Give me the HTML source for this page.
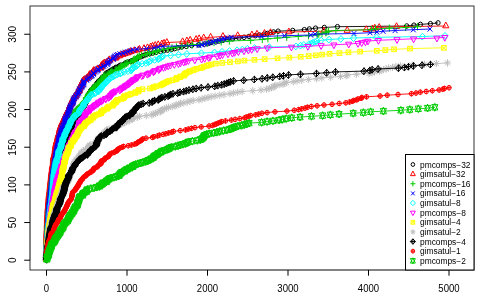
<!DOCTYPE html>
<html><head><meta charset="utf-8"><title>plot</title>
<style>
html,body{margin:0;padding:0;background:#fff;}
text{filter:grayscale(1);}
svg{display:block;font-family:"Liberation Sans",sans-serif;font-size:9.6px;fill:#000;}
</style></head><body>
<svg width="480" height="300" viewBox="0 0 480 300">
<rect width="480" height="300" fill="#fff"/>
<g>
<defs>
<marker id="m1" viewBox="-5 -5 10 10" markerWidth="10" markerHeight="10" refX="0" refY="0" markerUnits="userSpaceOnUse" overflow="visible"><path d="M-2.15 0A2.15 2.3 0 1 0 2.15 0A2.15 2.3 0 1 0 -2.15 0Z" fill="none" stroke="#000000" stroke-width="1.0" stroke-linejoin="round" stroke-linecap="round"/></marker>
<marker id="m2" viewBox="-5 -5 10 10" markerWidth="10" markerHeight="10" refX="0" refY="0" markerUnits="userSpaceOnUse" overflow="visible"><path d="M0 -3.58 L2.9 1.79 L-2.9 1.79Z" fill="none" stroke="#FF0000" stroke-width="1.0" stroke-linejoin="round" stroke-linecap="round"/></marker>
<marker id="m3" viewBox="-5 -5 10 10" markerWidth="10" markerHeight="10" refX="0" refY="0" markerUnits="userSpaceOnUse" overflow="visible"><path d="M-3.04 0 L3.04 0M0 -3.25 L0 3.25" fill="none" stroke="#00CD00" stroke-width="1.0" stroke-linejoin="round" stroke-linecap="round"/></marker>
<marker id="m4" viewBox="-5 -5 10 10" markerWidth="10" markerHeight="10" refX="0" refY="0" markerUnits="userSpaceOnUse" overflow="visible"><path d="M-2.15 -2.3 L2.15 2.3M-2.15 2.3 L2.15 -2.3" fill="none" stroke="#0000FF" stroke-width="1.0" stroke-linejoin="round" stroke-linecap="round"/></marker>
<marker id="m5" viewBox="-5 -5 10 10" markerWidth="10" markerHeight="10" refX="0" refY="0" markerUnits="userSpaceOnUse" overflow="visible"><path d="M-3.04 0 L0 -3.25 L3.04 0 L0 3.25Z" fill="none" stroke="#00FFFF" stroke-width="1.0" stroke-linejoin="round" stroke-linecap="round"/></marker>
<marker id="m6" viewBox="-5 -5 10 10" markerWidth="10" markerHeight="10" refX="0" refY="0" markerUnits="userSpaceOnUse" overflow="visible"><path d="M0 3.58 L2.9 -1.79 L-2.9 -1.79Z" fill="none" stroke="#FF00FF" stroke-width="1.0" stroke-linejoin="round" stroke-linecap="round"/></marker>
<marker id="m7" viewBox="-5 -5 10 10" markerWidth="10" markerHeight="10" refX="0" refY="0" markerUnits="userSpaceOnUse" overflow="visible"><path d="M-2.15 -2.3 L2.15 -2.3 L2.15 2.3 L-2.15 2.3ZM-2.15 -2.3 L2.15 2.3M-2.15 2.3 L2.15 -2.3" fill="none" stroke="#FFFF00" stroke-width="1.0" stroke-linejoin="round" stroke-linecap="round"/></marker>
<marker id="m8" viewBox="-5 -5 10 10" markerWidth="10" markerHeight="10" refX="0" refY="0" markerUnits="userSpaceOnUse" overflow="visible"><path d="M-2.15 -2.3 L2.15 2.3M-2.15 2.3 L2.15 -2.3M-3.04 0 L3.04 0M0 -3.25 L0 3.25" fill="none" stroke="#BEBEBE" stroke-width="1.0" stroke-linejoin="round" stroke-linecap="round"/></marker>
<marker id="m9" viewBox="-5 -5 10 10" markerWidth="10" markerHeight="10" refX="0" refY="0" markerUnits="userSpaceOnUse" overflow="visible"><path d="M-3.04 0 L0 -3.25 L3.04 0 L0 3.25ZM-3.04 0 L3.04 0M0 -3.25 L0 3.25" fill="none" stroke="#000000" stroke-width="1.0" stroke-linejoin="round" stroke-linecap="round"/></marker>
<marker id="m10" viewBox="-5 -5 10 10" markerWidth="10" markerHeight="10" refX="0" refY="0" markerUnits="userSpaceOnUse" overflow="visible"><path d="M-2.15 0A2.15 2.3 0 1 0 2.15 0A2.15 2.3 0 1 0 -2.15 0ZM-2.15 0 L2.15 0M0 -2.3 L0 2.3" fill="none" stroke="#FF0000" stroke-width="1.0" stroke-linejoin="round" stroke-linecap="round"/></marker>
<marker id="m11" viewBox="-5 -5 10 10" markerWidth="10" markerHeight="10" refX="0" refY="0" markerUnits="userSpaceOnUse" overflow="visible"><path d="M0 3.58 L2.9 -2.68 L-2.9 -2.68ZM0 -3.58 L2.9 2.68 L-2.9 2.68Z" fill="none" stroke="#00CD00" stroke-width="1.0" stroke-linejoin="round" stroke-linecap="round"/></marker>
</defs>
<polyline points="46.5,259.4 46.6,258.7 46.6,257.9 46.6,257.2 46.6,256.4 46.6,255.7 46.7,254.9 46.7,254.2 46.7,253.4 46.7,252.7 46.8,251.9 46.8,251.2 46.9,250.4 46.9,249.7 46.9,248.9 46.9,248.1 47.0,247.4 47.1,246.6 47.1,245.9 47.1,245.1 47.1,244.4 47.2,243.6 47.2,242.9 47.2,242.1 47.3,241.4 47.3,240.6 47.3,239.9 47.3,239.1 47.3,238.4 47.4,237.6 47.4,236.9 47.4,236.1 47.5,235.3 47.6,234.6 47.7,233.8 47.7,233.1 47.7,232.3 47.8,231.6 47.9,230.8 48.0,230.1 48.0,229.3 48.0,228.6 48.0,227.8 48.0,227.1 48.0,226.3 48.1,225.6 48.1,224.8 48.2,224.0 48.2,223.3 48.3,222.5 48.4,221.8 48.5,221.0 48.5,220.3 48.6,219.5 48.6,218.8 48.7,218.0 48.7,217.3 48.8,216.5 48.8,215.8 48.8,215.0 48.8,214.3 48.9,213.5 49.0,212.7 49.0,212.0 49.0,211.2 49.2,210.5 49.3,209.7 49.5,209.0 49.5,208.2 49.5,207.5 49.5,206.7 49.5,206.0 49.5,205.2 49.6,204.5 49.7,203.7 49.7,203.0 50.0,202.2 50.0,201.5 50.1,200.7 50.1,199.9 50.2,199.2 50.2,198.4 50.3,197.7 50.4,196.9 50.5,196.2 50.5,195.4 50.6,194.7 50.8,193.9 50.8,193.2 50.8,192.4 50.9,191.7 51.1,190.9 51.4,190.2 51.4,189.4 51.5,188.6 51.7,187.9 51.9,187.1 51.9,186.4 52.0,185.6 52.2,184.9 52.2,184.1 52.2,183.4 52.2,182.6 52.2,181.9 52.3,181.1 52.4,180.4 52.5,179.6 52.6,178.9 52.9,178.1 52.9,177.3 53.1,176.6 53.2,175.8 53.2,175.1 53.3,174.3 53.3,173.6 53.5,172.8 53.7,172.1 53.7,171.3 53.9,170.6 53.9,169.8 54.0,169.1 54.2,168.3 54.3,167.6 54.4,166.8 54.7,166.1 55.0,165.3 55.5,164.5 55.8,163.8 55.8,163.0 55.9,162.3 56.2,161.5 57.1,160.8 57.1,160.0 57.1,159.3 58.0,158.5 58.2,157.8 58.2,157.0 58.4,156.3 58.6,155.5 58.9,154.8 59.2,154.0 59.8,153.2 60.1,152.5 60.1,151.7 60.3,151.0 60.6,150.2 61.6,149.5 61.6,148.7 62.0,148.0 62.1,147.2 62.3,146.5 62.6,145.7 62.8,145.0 63.2,144.2 63.3,143.5 63.6,142.7 64.4,141.9 64.6,141.2 65.5,140.4 66.3,139.7 66.9,138.9 66.9,138.2 67.2,137.4 67.7,136.7 68.1,135.9 68.1,135.2 68.4,134.4 69.2,133.7 69.8,132.9 70.7,132.2 71.3,131.4 71.3,130.6 71.3,129.9 71.3,129.1 72.0,128.4 72.2,127.6 72.2,126.9 72.2,126.1 72.7,125.4 72.7,124.6 72.8,123.9 73.2,123.1 73.4,122.4 73.8,121.6 74.8,120.9 74.8,120.1 75.1,119.4 75.3,118.6 75.5,117.8 75.9,117.1 77.0,116.3 77.9,115.6 78.9,114.8 79.6,114.1 79.6,113.3 79.6,112.6 79.9,111.8 80.0,111.1 80.4,110.3 80.8,109.6 81.3,108.8 82.3,108.1 83.1,107.3 84.2,106.5 84.7,105.8 84.7,105.0 84.7,104.3 85.5,103.5 85.7,102.8 86.4,102.0 86.4,101.3 86.4,100.5 86.4,99.8 87.1,99.0 87.2,98.3 88.0,97.5 88.0,96.8 88.4,96.0 88.4,95.2 88.6,94.5 89.0,93.7 89.4,93.0 90.0,92.2 90.4,91.5 90.8,90.7 91.2,90.0 92.7,89.2 93.9,88.5 93.9,87.7 93.9,87.0 94.5,86.2 95.9,85.5 96.5,84.7 96.9,84.0 96.9,83.2 97.8,82.4 98.3,81.7 98.9,80.9 100.3,80.2 102.0,79.4 102.1,78.7 102.1,77.9 102.4,77.2 104.2,76.4 105.3,75.7 105.6,74.9 105.6,74.2 106.1,73.4 107.0,72.7 108.9,71.9 109.6,71.1 111.6,70.4 112.0,69.6 113.2,68.9 115.5,68.1 115.8,67.4 118.1,66.6 119.3,65.9 120.6,65.1 123.5,64.4 125.1,63.6 125.7,62.9 127.5,62.1 130.4,61.4 132.2,60.6 134.4,59.8 136.7,59.1 137.1,58.3 138.1,57.6 140.7,56.8 142.3,56.1 144.1,55.3 146.1,54.6 149.6,53.8 152.6,53.1 156.0,52.3 160.5,51.6 163.8,50.8 167.4,50.1 171.7,49.3 174.7,48.6 177.9,47.8 181.6,47.0 186.2,46.3 191.6,45.5 198.5,44.8 204.4,44.0 208.6,43.3 211.0,42.5 215.9,41.8 219.2,41.0 222.9,40.3 227.1,39.5 232.7,38.8 239.0,38.0 244.0,37.3 249.0,36.5 255.2,35.7 259.3,35.0 263.9,34.2 267.3,33.5 270.2,32.7 273.5,32.0 278.1,31.2 292.7,30.5 304.3,29.7 309.3,29.0 315.5,28.2 324.3,27.5 337.4,26.7 406.7,26.0 413.9,25.2 420.4,24.4 430.4,23.7 438.0,22.9" fill="none" stroke="#000000" stroke-width="0.9" marker-start="url(#m1)" marker-mid="url(#m1)" marker-end="url(#m1)"/>
<polyline points="46.5,259.4 46.5,258.7 46.5,257.9 46.5,257.2 46.6,256.4 46.6,255.7 46.6,254.9 46.6,254.2 46.6,253.4 46.7,252.7 46.7,251.9 46.7,251.2 46.7,250.4 46.7,249.7 46.7,248.9 46.7,248.1 46.7,247.4 46.8,246.6 46.8,245.9 46.8,245.1 46.8,244.4 46.8,243.6 46.8,242.9 46.8,242.1 46.9,241.4 46.9,240.6 46.9,239.9 46.9,239.1 46.9,238.4 46.9,237.6 47.0,236.9 47.0,236.1 47.0,235.3 47.0,234.6 47.0,233.8 47.1,233.1 47.1,232.3 47.2,231.6 47.2,230.8 47.2,230.1 47.3,229.3 47.4,228.6 47.4,227.8 47.4,227.1 47.4,226.3 47.4,225.6 47.5,224.8 47.5,224.0 47.5,223.3 47.6,222.5 47.6,221.8 47.6,221.0 47.6,220.3 47.7,219.5 47.7,218.8 47.7,218.0 47.8,217.3 47.9,216.5 47.9,215.8 47.9,215.0 48.0,214.3 48.1,213.5 48.1,212.7 48.1,212.0 48.1,211.2 48.1,210.5 48.2,209.7 48.2,209.0 48.3,208.2 48.5,207.5 48.5,206.7 48.6,206.0 48.6,205.2 48.6,204.5 48.7,203.7 48.7,203.0 48.8,202.2 48.9,201.5 49.0,200.7 49.0,199.9 49.1,199.2 49.1,198.4 49.2,197.7 49.2,196.9 49.3,196.2 49.3,195.4 49.5,194.7 49.7,193.9 49.7,193.2 49.7,192.4 49.9,191.7 50.0,190.9 50.2,190.2 50.2,189.4 50.2,188.6 50.3,187.9 50.4,187.1 50.5,186.4 50.6,185.6 50.6,184.9 50.6,184.1 50.9,183.4 50.9,182.6 50.9,181.9 51.0,181.1 51.2,180.4 51.2,179.6 51.3,178.9 51.4,178.1 51.4,177.3 51.6,176.6 51.6,175.8 51.6,175.1 51.7,174.3 51.8,173.6 51.9,172.8 52.1,172.1 52.1,171.3 52.4,170.6 52.4,169.8 52.4,169.1 52.5,168.3 52.6,167.6 52.6,166.8 52.9,166.1 53.0,165.3 53.3,164.5 53.4,163.8 53.4,163.0 53.4,162.3 53.7,161.5 53.7,160.8 53.7,160.0 53.7,159.3 53.7,158.5 53.8,157.8 53.8,157.0 54.3,156.3 54.4,155.5 54.5,154.8 54.8,154.0 55.2,153.2 55.2,152.5 55.2,151.7 55.3,151.0 55.3,150.2 55.7,149.5 55.7,148.7 55.7,148.0 55.8,147.2 55.9,146.5 56.0,145.7 56.1,145.0 56.3,144.2 56.6,143.5 56.7,142.7 56.8,141.9 57.0,141.2 57.5,140.4 57.9,139.7 57.9,138.9 57.9,138.2 58.2,137.4 58.3,136.7 58.3,135.9 58.5,135.2 58.9,134.4 59.5,133.7 59.5,132.9 59.5,132.2 59.8,131.4 59.9,130.6 60.0,129.9 60.1,129.1 60.6,128.4 60.7,127.6 60.9,126.9 61.3,126.1 61.5,125.4 61.7,124.6 62.0,123.9 62.4,123.1 62.7,122.4 63.4,121.6 63.7,120.9 63.8,120.1 64.4,119.4 64.6,118.6 64.8,117.8 65.1,117.1 65.6,116.3 65.9,115.6 66.5,114.8 66.6,114.1 67.0,113.3 67.2,112.6 67.7,111.8 68.7,111.1 68.9,110.3 68.9,109.6 69.3,108.8 69.6,108.1 69.7,107.3 69.9,106.5 70.2,105.8 70.8,105.0 71.0,104.3 71.3,103.5 71.6,102.8 72.2,102.0 72.3,101.3 72.5,100.5 73.0,99.8 73.4,99.0 73.9,98.3 74.4,97.5 75.7,96.8 75.8,96.0 76.2,95.2 76.5,94.5 76.9,93.7 77.3,93.0 78.0,92.2 79.1,91.5 79.4,90.7 79.4,90.0 79.5,89.2 79.6,88.5 79.8,87.7 81.1,87.0 81.2,86.2 81.3,85.5 81.6,84.7 81.8,84.0 82.1,83.2 82.5,82.4 82.9,81.7 83.4,80.9 83.9,80.2 85.0,79.4 86.8,78.7 87.2,77.9 89.2,77.2 89.2,76.4 89.3,75.7 89.6,74.9 90.3,74.2 92.1,73.4 93.1,72.7 93.3,71.9 93.5,71.1 94.1,70.4 97.2,69.6 98.2,68.9 101.2,68.1 101.2,67.4 101.3,66.6 101.6,65.9 102.2,65.1 103.0,64.4 104.0,63.6 104.8,62.9 107.2,62.1 108.6,61.4 109.0,60.6 109.6,59.8 113.0,59.1 115.8,58.3 116.2,57.6 116.8,56.8 119.4,56.1 120.5,55.3 123.1,54.6 125.2,53.8 127.7,53.1 129.5,52.3 131.2,51.6 134.4,50.8 138.6,50.1 139.6,49.3 144.2,48.6 147.7,47.8 150.9,47.0 152.8,46.3 155.4,45.5 158.4,44.8 162.1,44.0 164.2,43.3 167.0,42.5 182.8,41.8 187.1,41.0 190.4,40.3 196.3,39.5 199.3,38.8 203.9,38.0 210.8,37.3 223.1,36.5 237.9,35.7 252.1,35.0 257.2,34.2 264.7,33.5 270.7,32.7 289.0,32.0 324.0,31.2 347.4,30.5 366.4,29.7 372.5,29.0 375.0,28.2 379.4,27.5 396.7,26.7 446.0,26.0" fill="none" stroke="#FF0000" stroke-width="0.9" marker-start="url(#m2)" marker-mid="url(#m2)" marker-end="url(#m2)"/>
<polyline points="46.5,259.4 46.6,258.7 46.6,257.9 46.7,257.2 46.7,256.4 46.7,255.7 46.7,254.9 46.7,254.2 46.8,253.4 46.8,252.7 46.8,251.9 46.8,251.2 46.8,250.4 46.9,249.7 46.9,248.9 46.9,248.1 47.0,247.4 47.1,246.6 47.1,245.9 47.1,245.1 47.1,244.4 47.1,243.6 47.2,242.9 47.2,242.1 47.2,241.4 47.2,240.6 47.3,239.9 47.3,239.1 47.3,238.4 47.4,237.6 47.4,236.9 47.4,236.1 47.4,235.3 47.5,234.6 47.5,233.8 47.6,233.1 47.7,232.3 47.7,231.6 47.7,230.8 47.7,230.1 47.8,229.3 47.8,228.6 47.9,227.8 48.1,227.1 48.1,226.3 48.2,225.6 48.2,224.8 48.3,224.0 48.3,223.3 48.3,222.5 48.4,221.8 48.5,221.0 48.5,220.3 48.6,219.5 48.6,218.8 48.6,218.0 48.6,217.3 48.7,216.5 48.7,215.8 48.8,215.0 48.8,214.3 48.9,213.5 48.9,212.7 48.9,212.0 49.0,211.2 49.0,210.5 49.2,209.7 49.4,209.0 49.5,208.2 49.5,207.5 49.6,206.7 49.7,206.0 49.7,205.2 49.9,204.5 50.0,203.7 50.0,203.0 50.1,202.2 50.2,201.5 50.2,200.7 50.4,199.9 50.4,199.2 50.5,198.4 50.5,197.7 50.5,196.9 50.7,196.2 50.8,195.4 50.9,194.7 50.9,193.9 51.0,193.2 51.0,192.4 51.1,191.7 51.2,190.9 51.4,190.2 51.6,189.4 51.6,188.6 51.6,187.9 51.6,187.1 51.7,186.4 51.8,185.6 51.9,184.9 52.0,184.1 52.0,183.4 52.1,182.6 52.1,181.9 52.3,181.1 52.4,180.4 52.6,179.6 52.7,178.9 52.8,178.1 52.8,177.3 52.9,176.6 53.2,175.8 53.2,175.1 53.3,174.3 53.4,173.6 53.4,172.8 53.6,172.1 53.7,171.3 54.0,170.6 54.1,169.8 54.2,169.1 54.2,168.3 54.2,167.6 54.5,166.8 54.7,166.1 55.0,165.3 55.1,164.5 55.5,163.8 55.5,163.0 55.6,162.3 55.8,161.5 55.9,160.8 55.9,160.0 56.1,159.3 56.5,158.5 56.8,157.8 56.8,157.0 56.8,156.3 56.8,155.5 56.9,154.8 57.0,154.0 57.3,153.2 57.4,152.5 57.6,151.7 57.7,151.0 57.8,150.2 58.1,149.5 58.2,148.7 58.3,148.0 58.5,147.2 59.0,146.5 59.5,145.7 59.7,145.0 59.8,144.2 60.2,143.5 60.2,142.7 60.2,141.9 60.2,141.2 60.4,140.4 60.6,139.7 60.7,138.9 60.8,138.2 61.0,137.4 61.1,136.7 61.3,135.9 61.5,135.2 61.8,134.4 62.5,133.7 62.6,132.9 62.8,132.2 62.9,131.4 63.2,130.6 63.3,129.9 63.6,129.1 64.2,128.4 64.4,127.6 65.2,126.9 65.3,126.1 65.5,125.4 65.8,124.6 66.5,123.9 67.6,123.1 67.7,122.4 67.9,121.6 68.0,120.9 68.2,120.1 68.8,119.4 69.9,118.6 70.3,117.8 72.1,117.1 72.9,116.3 74.4,115.6 74.4,114.8 74.9,114.1 74.9,113.3 74.9,112.6 75.1,111.8 75.4,111.1 76.0,110.3 76.5,109.6 77.8,108.8 79.6,108.1 79.8,107.3 80.2,106.5 80.6,105.8 81.3,105.0 82.1,104.3 83.6,103.5 83.6,102.8 84.9,102.0 84.9,101.3 85.6,100.5 86.3,99.8 86.3,99.0 86.3,98.3 86.5,97.5 87.6,96.8 87.9,96.0 88.3,95.2 88.6,94.5 88.9,93.7 90.3,93.0 90.4,92.2 91.0,91.5 91.4,90.7 91.7,90.0 93.0,89.2 93.1,88.5 93.3,87.7 95.1,87.0 95.5,86.2 97.3,85.5 97.6,84.7 97.6,84.0 97.7,83.2 99.7,82.4 99.8,81.7 101.6,80.9 101.6,80.2 101.6,79.4 103.5,78.7 103.7,77.9 103.7,77.2 103.8,76.4 104.1,75.7 106.0,74.9 107.9,74.2 109.9,73.4 110.5,72.7 111.3,71.9 112.0,71.1 115.2,70.4 116.7,69.6 118.3,68.9 119.1,68.1 120.6,67.4 121.4,66.6 122.3,65.9 124.1,65.1 125.0,64.4 126.3,63.6 127.9,62.9 131.0,62.1 133.2,61.4 133.2,60.6 133.4,59.8 134.8,59.1 137.1,58.3 137.4,57.6 138.0,56.8 139.4,56.1 141.7,55.3 145.1,54.6 147.6,53.8 149.7,53.1 153.0,52.3 155.5,51.6 157.3,50.8 159.2,50.1 163.7,49.3 168.2,48.6 172.0,47.8 176.4,47.0 181.8,46.3 187.7,45.5 192.3,44.8 200.0,44.0 207.1,43.3 214.0,42.5 221.2,41.8 229.3,41.0 250.7,40.3 262.3,39.5 267.9,38.8 277.5,38.0 286.7,37.3 298.3,36.5 308.5,35.7 317.2,35.0 318.8,34.2 322.0,33.5 325.8,32.7 326.8,32.0 328.6,31.2 335.9,30.5 371.6,29.7 375.5,29.0 389.3,28.2 405.7,27.5 417.5,26.7" fill="none" stroke="#00CD00" stroke-width="0.9" marker-start="url(#m3)" marker-mid="url(#m3)" marker-end="url(#m3)"/>
<polyline points="46.5,259.4 46.6,258.7 46.7,257.9 46.7,257.2 46.7,256.4 46.7,255.7 46.8,254.9 46.8,254.2 46.8,253.4 46.8,252.7 46.8,251.9 46.9,251.2 46.9,250.4 46.9,249.7 46.9,248.9 47.0,248.1 47.0,247.4 47.0,246.6 47.0,245.9 47.1,245.1 47.1,244.4 47.1,243.6 47.2,242.9 47.2,242.1 47.3,241.4 47.3,240.6 47.3,239.9 47.4,239.1 47.4,238.4 47.5,237.6 47.5,236.9 47.5,236.1 47.5,235.3 47.5,234.6 47.6,233.8 47.6,233.1 47.6,232.3 47.6,231.6 47.6,230.8 47.6,230.1 47.7,229.3 47.7,228.6 47.8,227.8 47.8,227.1 47.9,226.3 47.9,225.6 47.9,224.8 47.9,224.0 48.0,223.3 48.0,222.5 48.0,221.8 48.1,221.0 48.1,220.3 48.2,219.5 48.2,218.8 48.2,218.0 48.3,217.3 48.3,216.5 48.3,215.8 48.4,215.0 48.4,214.3 48.4,213.5 48.4,212.7 48.4,212.0 48.7,211.2 48.7,210.5 48.7,209.7 48.8,209.0 48.8,208.2 48.9,207.5 48.9,206.7 49.1,206.0 49.1,205.2 49.2,204.5 49.3,203.7 49.4,203.0 49.4,202.2 49.5,201.5 49.5,200.7 49.8,199.9 50.0,199.2 50.0,198.4 50.0,197.7 50.2,196.9 50.2,196.2 50.2,195.4 50.2,194.7 50.2,193.9 50.5,193.2 50.5,192.4 50.7,191.7 50.9,190.9 51.0,190.2 51.0,189.4 51.0,188.6 51.2,187.9 51.4,187.1 51.4,186.4 51.4,185.6 51.4,184.9 51.4,184.1 51.6,183.4 51.7,182.6 51.9,181.9 51.9,181.1 52.1,180.4 52.2,179.6 52.2,178.9 52.2,178.1 52.4,177.3 52.4,176.6 52.4,175.8 52.4,175.1 52.5,174.3 52.6,173.6 52.7,172.8 52.8,172.1 53.2,171.3 53.2,170.6 53.3,169.8 53.4,169.1 53.5,168.3 53.6,167.6 53.9,166.8 54.0,166.1 54.0,165.3 54.2,164.5 54.2,163.8 54.3,163.0 54.7,162.3 54.7,161.5 54.8,160.8 54.9,160.0 55.3,159.3 55.3,158.5 55.4,157.8 55.6,157.0 55.6,156.3 55.6,155.5 55.9,154.8 55.9,154.0 56.3,153.2 56.3,152.5 56.3,151.7 56.5,151.0 56.5,150.2 56.8,149.5 56.9,148.7 57.0,148.0 57.3,147.2 57.4,146.5 57.7,145.7 57.9,145.0 58.1,144.2 58.1,143.5 58.4,142.7 58.4,141.9 58.4,141.2 58.7,140.4 58.7,139.7 58.9,138.9 59.0,138.2 59.1,137.4 59.4,136.7 59.5,135.9 59.7,135.2 60.3,134.4 60.6,133.7 60.6,132.9 60.8,132.2 61.0,131.4 61.2,130.6 61.3,129.9 62.1,129.1 62.1,128.4 62.1,127.6 62.3,126.9 62.7,126.1 63.4,125.4 64.0,124.6 64.3,123.9 64.8,123.1 64.8,122.4 64.8,121.6 64.8,120.9 65.1,120.1 65.3,119.4 65.6,118.6 66.0,117.8 66.1,117.1 66.8,116.3 67.6,115.6 67.7,114.8 67.7,114.1 68.1,113.3 68.2,112.6 69.0,111.8 69.0,111.1 69.4,110.3 69.4,109.6 69.8,108.8 69.8,108.1 70.4,107.3 70.4,106.5 71.0,105.8 71.5,105.0 71.8,104.3 72.6,103.5 73.3,102.8 73.3,102.0 73.4,101.3 73.4,100.5 73.5,99.8 73.6,99.0 74.5,98.3 74.7,97.5 75.8,96.8 75.9,96.0 77.0,95.2 77.0,94.5 78.0,93.7 78.5,93.0 78.5,92.2 78.5,91.5 79.6,90.7 79.6,90.0 79.6,89.2 80.1,88.5 81.2,87.7 81.7,87.0 82.0,86.2 82.9,85.5 83.6,84.7 83.6,84.0 83.7,83.2 83.7,82.4 83.7,81.7 84.2,80.9 86.7,80.2 86.7,79.4 88.2,78.7 88.2,77.9 89.5,77.2 91.0,76.4 92.0,75.7 92.0,74.9 93.5,74.2 93.5,73.4 93.5,72.7 95.4,71.9 96.6,71.1 97.8,70.4 97.9,69.6 98.0,68.9 100.7,68.1 100.7,67.4 103.3,66.6 103.7,65.9 105.1,65.1 107.2,64.4 107.4,63.6 108.2,62.9 108.2,62.1 109.0,61.4 110.3,60.6 110.4,59.8 113.3,59.1 113.6,58.3 113.8,57.6 114.4,56.8 115.1,56.1 116.2,55.3 117.6,54.6 119.9,53.8 123.2,53.1 125.4,52.3 127.9,51.6 130.2,50.8 133.2,50.1 137.1,49.3 146.6,48.6 154.1,47.8 158.2,47.0 163.1,46.3 199.0,45.5 201.9,44.8 204.7,44.0 207.7,43.3 210.4,42.5 213.0,41.8 215.5,41.0 219.0,40.3 221.7,39.5 223.9,38.8 227.5,38.0 231.3,37.3 261.9,36.5 284.4,35.7 310.7,35.0 315.0,34.2 354.0,33.5 370.0,32.7 376.9,32.0 383.1,31.2 395.1,30.5 413.3,29.7 430.0,29.0" fill="none" stroke="#0000FF" stroke-width="0.9" marker-start="url(#m4)" marker-mid="url(#m4)" marker-end="url(#m4)"/>
<polyline points="46.6,259.4 46.6,258.7 46.6,257.9 46.6,257.2 46.7,256.4 46.7,255.7 46.7,254.9 46.8,254.2 46.9,253.4 46.9,252.7 47.0,251.9 47.0,251.2 47.0,250.4 47.0,249.7 47.1,248.9 47.1,248.1 47.2,247.4 47.2,246.6 47.3,245.9 47.3,245.1 47.4,244.4 47.4,243.6 47.5,242.9 47.6,242.1 47.6,241.4 47.6,240.6 47.8,239.9 47.9,239.1 48.0,238.4 48.1,237.6 48.2,236.9 48.2,236.1 48.2,235.3 48.2,234.6 48.3,233.8 48.4,233.1 48.4,232.3 48.5,231.6 48.5,230.8 48.6,230.1 48.7,229.3 48.7,228.6 48.8,227.8 48.9,227.1 48.9,226.3 49.1,225.6 49.1,224.8 49.1,224.0 49.1,223.3 49.4,222.5 49.4,221.8 49.5,221.0 49.7,220.3 49.8,219.5 49.9,218.8 50.0,218.0 50.0,217.3 50.0,216.5 50.0,215.8 50.2,215.0 50.2,214.3 50.2,213.5 50.3,212.7 50.5,212.0 50.6,211.2 50.6,210.5 50.7,209.7 51.0,209.0 51.0,208.2 51.1,207.5 51.1,206.7 51.2,206.0 51.3,205.2 51.4,204.5 51.7,203.7 51.7,203.0 51.8,202.2 52.0,201.5 52.0,200.7 52.0,199.9 52.1,199.2 52.2,198.4 52.2,197.7 52.3,196.9 52.5,196.2 52.6,195.4 52.7,194.7 52.8,193.9 52.8,193.2 52.9,192.4 52.9,191.7 52.9,190.9 53.0,190.2 53.2,189.4 53.2,188.6 53.2,187.9 53.3,187.1 53.3,186.4 53.3,185.6 53.5,184.9 53.5,184.1 53.6,183.4 53.6,182.6 53.6,181.9 53.6,181.1 53.7,180.4 53.8,179.6 53.8,178.9 53.9,178.1 53.9,177.3 54.0,176.6 54.1,175.8 54.1,175.1 54.2,174.3 54.5,173.6 54.6,172.8 54.7,172.1 54.7,171.3 54.9,170.6 54.9,169.8 55.2,169.1 55.2,168.3 55.3,167.6 55.4,166.8 55.5,166.1 55.6,165.3 55.9,164.5 55.9,163.8 56.1,163.0 56.2,162.3 56.3,161.5 56.8,160.8 56.8,160.0 57.1,159.3 57.2,158.5 57.8,157.8 58.3,157.0 58.3,156.3 58.4,155.5 58.4,154.8 58.7,154.0 58.7,153.2 58.8,152.5 58.9,151.7 59.1,151.0 59.3,150.2 60.0,149.5 60.2,148.7 60.8,148.0 61.0,147.2 61.1,146.5 61.4,145.7 61.4,145.0 61.4,144.2 61.5,143.5 62.0,142.7 62.4,141.9 62.8,141.2 62.8,140.4 62.9,139.7 63.0,138.9 63.2,138.2 63.4,137.4 64.3,136.7 64.6,135.9 64.8,135.2 64.9,134.4 65.1,133.7 65.3,132.9 66.3,132.2 66.4,131.4 66.7,130.6 66.8,129.9 67.2,129.1 67.9,128.4 68.6,127.6 68.7,126.9 68.7,126.1 69.1,125.4 69.5,124.6 70.3,123.9 70.3,123.1 70.5,122.4 70.8,121.6 71.0,120.9 71.2,120.1 72.9,119.4 72.9,118.6 73.3,117.8 74.1,117.1 74.3,116.3 74.8,115.6 76.6,114.8 77.1,114.1 78.6,113.3 79.7,112.6 79.7,111.8 79.7,111.1 79.7,110.3 80.3,109.6 80.4,108.8 81.9,108.1 82.6,107.3 82.8,106.5 83.7,105.8 83.7,105.0 83.8,104.3 84.1,103.5 84.5,102.8 85.8,102.0 86.5,101.3 86.7,100.5 87.9,99.8 88.1,99.0 88.3,98.3 88.9,97.5 89.7,96.8 90.6,96.0 90.9,95.2 91.2,94.5 93.8,93.7 95.6,93.0 96.1,92.2 98.7,91.5 98.7,90.7 98.8,90.0 99.0,89.2 101.1,88.5 101.3,87.7 101.6,87.0 101.9,86.2 103.2,85.5 103.2,84.7 104.3,84.0 105.8,83.2 106.0,82.4 106.5,81.7 107.0,80.9 107.9,80.2 108.7,79.4 109.7,78.7 110.9,77.9 111.9,77.2 113.5,76.4 114.3,75.7 115.6,74.9 117.6,74.2 120.4,73.4 121.7,72.7 124.5,71.9 128.2,71.1 131.3,70.4 132.1,69.6 132.1,68.9 132.6,68.1 133.2,67.4 134.9,66.6 136.7,65.9 137.5,65.1 138.3,64.4 142.2,63.6 146.2,62.9 148.7,62.1 149.5,61.4 150.8,60.6 154.9,59.8 158.5,59.1 159.2,58.3 160.6,57.6 161.8,56.8 163.3,56.1 170.8,55.3 178.7,54.6 186.9,53.8 201.4,53.1 214.5,52.3 222.0,51.6 229.5,50.8 237.1,50.1 242.4,49.3 247.4,48.6 254.6,47.8 269.2,47.0 296.1,46.3 300.6,45.5 303.8,44.8 308.9,44.0 311.4,43.3 313.0,42.5 314.9,41.8 317.0,41.0 321.2,40.3 329.1,39.5 341.0,38.8 353.7,38.0 376.5,37.3 422.5,36.5 445.0,35.7" fill="none" stroke="#00FFFF" stroke-width="0.9" marker-start="url(#m5)" marker-mid="url(#m5)" marker-end="url(#m5)"/>
<polyline points="46.6,259.4 46.8,258.7 46.8,257.9 46.8,257.2 46.9,256.4 46.9,255.7 46.9,254.9 47.0,254.2 47.1,253.4 47.2,252.7 47.4,251.9 47.4,251.2 47.5,250.4 47.5,249.7 47.5,248.9 47.5,248.1 47.6,247.4 47.6,246.6 47.7,245.9 47.9,245.1 47.9,244.4 48.0,243.6 48.0,242.9 48.0,242.1 48.2,241.4 48.2,240.6 48.4,239.9 48.4,239.1 48.4,238.4 48.5,237.6 48.7,236.9 48.9,236.1 49.0,235.3 49.1,234.6 49.1,233.8 49.2,233.1 49.2,232.3 49.2,231.6 49.4,230.8 49.4,230.1 49.5,229.3 49.5,228.6 49.6,227.8 49.7,227.1 49.7,226.3 49.8,225.6 49.8,224.8 50.1,224.0 50.2,223.3 50.4,222.5 50.4,221.8 50.4,221.0 50.5,220.3 50.6,219.5 50.7,218.8 51.0,218.0 51.1,217.3 51.1,216.5 51.1,215.8 51.2,215.0 51.3,214.3 51.4,213.5 51.4,212.7 51.5,212.0 51.7,211.2 51.8,210.5 51.9,209.7 52.0,209.0 52.1,208.2 52.2,207.5 52.6,206.7 52.6,206.0 52.7,205.2 52.7,204.5 53.0,203.7 53.0,203.0 53.1,202.2 53.2,201.5 53.6,200.7 53.9,199.9 53.9,199.2 53.9,198.4 54.0,197.7 54.3,196.9 54.4,196.2 54.4,195.4 54.5,194.7 54.5,193.9 54.6,193.2 54.7,192.4 54.8,191.7 55.0,190.9 55.2,190.2 55.6,189.4 55.6,188.6 55.6,187.9 55.8,187.1 56.3,186.4 56.3,185.6 56.3,184.9 56.7,184.1 56.7,183.4 56.8,182.6 56.9,181.9 57.1,181.1 57.5,180.4 57.6,179.6 58.1,178.9 58.3,178.1 58.3,177.3 58.6,176.6 58.9,175.8 59.3,175.1 59.8,174.3 59.8,173.6 59.9,172.8 60.2,172.1 60.7,171.3 60.9,170.6 61.2,169.8 61.4,169.1 61.6,168.3 61.9,167.6 61.9,166.8 62.0,166.1 62.9,165.3 63.3,164.5 63.5,163.8 63.5,163.0 63.5,162.3 64.1,161.5 64.1,160.8 64.8,160.0 64.8,159.3 65.1,158.5 65.4,157.8 65.4,157.0 66.3,156.3 67.0,155.5 67.0,154.8 67.0,154.0 67.2,153.2 67.3,152.5 67.5,151.7 67.8,151.0 68.5,150.2 68.6,149.5 68.6,148.7 69.3,148.0 69.3,147.2 69.3,146.5 69.4,145.7 70.2,145.0 70.6,144.2 71.3,143.5 71.3,142.7 71.6,141.9 72.0,141.2 72.2,140.4 72.4,139.7 72.9,138.9 73.2,138.2 73.8,137.4 74.4,136.7 74.4,135.9 74.4,135.2 74.6,134.4 75.7,133.7 75.7,132.9 75.7,132.2 76.8,131.4 77.6,130.6 77.6,129.9 78.5,129.1 78.5,128.4 79.1,127.6 79.5,126.9 79.5,126.1 79.5,125.4 79.5,124.6 79.6,123.9 79.8,123.1 80.0,122.4 81.3,121.6 82.1,120.9 83.0,120.1 83.2,119.4 83.8,118.6 85.1,117.8 85.1,117.1 85.2,116.3 85.2,115.6 85.8,114.8 85.9,114.1 87.0,113.3 87.2,112.6 87.7,111.8 88.7,111.1 90.5,110.3 90.5,109.6 91.0,108.8 91.3,108.1 91.8,107.3 93.8,106.5 94.6,105.8 95.3,105.0 96.5,104.3 98.0,103.5 98.7,102.8 99.2,102.0 101.1,101.3 102.1,100.5 103.1,99.8 105.8,99.0 106.0,98.3 108.5,97.5 109.6,96.8 110.9,96.0 110.9,95.2 111.9,94.5 112.4,93.7 113.0,93.0 113.9,92.2 115.1,91.5 116.3,90.7 119.9,90.0 120.7,89.2 121.9,88.5 122.6,87.7 123.9,87.0 125.4,86.2 126.0,85.5 127.2,84.7 128.8,84.0 129.5,83.2 130.5,82.4 131.1,81.7 132.6,80.9 133.1,80.2 134.1,79.4 135.8,78.7 136.9,77.9 137.6,77.2 138.4,76.4 142.0,75.7 143.5,74.9 147.5,74.2 148.8,73.4 150.0,72.7 153.7,71.9 154.2,71.1 155.2,70.4 158.9,69.6 159.6,68.9 160.6,68.1 163.7,67.4 165.7,66.6 168.3,65.9 170.6,65.1 174.5,64.4 178.6,63.6 180.6,62.9 183.9,62.1 186.0,61.4 188.5,60.6 195.0,59.8 201.8,59.1 204.8,58.3 208.9,57.6 210.3,56.8 217.4,56.1 220.2,55.3 222.7,54.6 228.2,53.8 232.6,53.1 234.8,52.3 238.6,51.6 244.2,50.8 248.6,50.1 251.9,49.3 257.4,48.6 267.4,47.8 291.6,47.0 308.1,46.3 321.3,45.5 334.1,44.8 348.9,44.0 358.2,43.3 361.9,42.5 365.6,41.8 368.1,41.0 378.6,40.3 397.2,39.5 413.8,38.8 437.1,38.0 445.0,37.3" fill="none" stroke="#FF00FF" stroke-width="0.9" marker-start="url(#m6)" marker-mid="url(#m6)" marker-end="url(#m6)"/>
<polyline points="46.6,259.4 46.6,258.7 46.6,257.9 46.7,257.2 46.8,256.4 46.8,255.7 46.8,254.9 46.9,254.2 46.9,253.4 46.9,252.7 47.0,251.9 47.0,251.2 47.1,250.4 47.1,249.7 47.2,248.9 47.2,248.1 47.3,247.4 47.4,246.6 47.4,245.9 47.5,245.1 47.5,244.4 47.6,243.6 47.6,242.9 47.7,242.1 47.8,241.4 47.8,240.6 47.9,239.9 48.1,239.1 48.1,238.4 48.2,237.6 48.4,236.9 48.5,236.1 48.7,235.3 48.7,234.6 48.7,233.8 48.7,233.1 48.7,232.3 48.8,231.6 48.8,230.8 49.0,230.1 49.0,229.3 49.4,228.6 49.5,227.8 49.5,227.1 49.5,226.3 49.7,225.6 49.7,224.8 49.7,224.0 50.0,223.3 50.1,222.5 50.3,221.8 50.3,221.0 50.4,220.3 50.7,219.5 50.7,218.8 50.9,218.0 50.9,217.3 51.0,216.5 51.2,215.8 51.2,215.0 51.7,214.3 51.8,213.5 52.2,212.7 52.3,212.0 52.4,211.2 52.4,210.5 52.7,209.7 52.7,209.0 52.7,208.2 52.8,207.5 53.2,206.7 53.3,206.0 53.5,205.2 53.6,204.5 54.3,203.7 54.7,203.0 54.8,202.2 54.8,201.5 55.1,200.7 55.2,199.9 55.3,199.2 55.6,198.4 55.9,197.7 56.0,196.9 56.2,196.2 56.7,195.4 56.7,194.7 56.8,193.9 56.9,193.2 57.5,192.4 57.7,191.7 57.9,190.9 58.1,190.2 58.2,189.4 58.4,188.6 58.6,187.9 59.1,187.1 59.1,186.4 59.1,185.6 59.5,184.9 59.8,184.1 59.8,183.4 59.9,182.6 60.5,181.9 60.5,181.1 60.7,180.4 60.8,179.6 61.1,178.9 61.4,178.1 61.4,177.3 61.6,176.6 61.9,175.8 62.3,175.1 62.3,174.3 62.3,173.6 62.3,172.8 62.5,172.1 62.5,171.3 62.6,170.6 62.8,169.8 62.9,169.1 63.0,168.3 63.5,167.6 63.9,166.8 63.9,166.1 64.0,165.3 64.0,164.5 64.1,163.8 64.1,163.0 64.8,162.3 65.1,161.5 65.1,160.8 65.1,160.0 65.2,159.3 65.4,158.5 65.6,157.8 66.3,157.0 66.3,156.3 66.4,155.5 66.6,154.8 67.3,154.0 67.4,153.2 68.1,152.5 68.4,151.7 68.4,151.0 68.6,150.2 68.6,149.5 68.9,148.7 69.1,148.0 69.3,147.2 70.4,146.5 71.2,145.7 71.2,145.0 71.2,144.2 71.3,143.5 71.4,142.7 72.7,141.9 73.1,141.2 73.1,140.4 74.4,139.7 74.5,138.9 75.1,138.2 75.3,137.4 75.9,136.7 76.8,135.9 77.4,135.2 77.4,134.4 78.2,133.7 78.2,132.9 78.5,132.2 78.8,131.4 79.3,130.6 79.8,129.9 80.1,129.1 81.0,128.4 81.6,127.6 82.0,126.9 84.0,126.1 84.4,125.4 84.8,124.6 85.1,123.9 85.9,123.1 86.6,122.4 88.3,121.6 88.6,120.9 90.7,120.1 90.7,119.4 91.3,118.6 93.3,117.8 93.3,117.1 93.9,116.3 95.2,115.6 96.4,114.8 99.1,114.1 101.4,113.3 101.4,112.6 101.5,111.8 102.3,111.1 103.6,110.3 104.4,109.6 107.1,108.8 107.5,108.1 108.2,107.3 109.1,106.5 112.6,105.8 112.8,105.0 113.5,104.3 114.1,103.5 114.7,102.8 116.3,102.0 116.6,101.3 117.1,100.5 117.9,99.8 121.2,99.0 123.4,98.3 123.9,97.5 124.1,96.8 125.0,96.0 128.0,95.2 130.2,94.5 131.4,93.7 135.4,93.0 135.7,92.2 138.5,91.5 138.6,90.7 138.8,90.0 142.6,89.2 150.2,88.5 152.8,87.7 154.1,87.0 156.4,86.2 160.4,85.5 161.8,84.7 163.0,84.0 164.4,83.2 166.2,82.4 167.5,81.7 169.1,80.9 172.8,80.2 175.8,79.4 176.7,78.7 176.9,77.9 180.1,77.2 181.1,76.4 183.9,75.7 184.5,74.9 184.8,74.2 185.7,73.4 186.7,72.7 188.9,71.9 190.2,71.1 193.4,70.4 194.7,69.6 196.5,68.9 200.8,68.1 202.4,67.4 204.2,66.6 206.8,65.9 209.1,65.1 211.4,64.4 216.0,63.6 222.5,62.9 230.1,62.1 238.1,61.4 244.6,60.6 254.6,59.8 264.8,59.1 277.7,58.3 289.5,57.6 300.9,56.8 308.9,56.1 316.0,55.3 322.3,54.6 329.7,53.8 339.6,53.1 348.6,52.3 360.3,51.6 377.0,50.8 385.5,50.1 394.2,49.3 410.2,48.6 444.0,47.8" fill="none" stroke="#FFFF00" stroke-width="0.9" marker-start="url(#m7)" marker-mid="url(#m7)" marker-end="url(#m7)"/>
<polyline points="46.6,259.4 46.8,258.7 46.9,257.9 46.9,257.2 46.9,256.4 47.0,255.7 47.1,254.9 47.1,254.2 47.1,253.4 47.2,252.7 47.2,251.9 47.2,251.2 47.3,250.4 47.4,249.7 47.5,248.9 47.5,248.1 47.6,247.4 47.8,246.6 47.9,245.9 48.0,245.1 48.0,244.4 48.2,243.6 48.2,242.9 48.2,242.1 48.2,241.4 48.3,240.6 48.4,239.9 48.5,239.1 48.7,238.4 48.8,237.6 48.8,236.9 48.8,236.1 48.9,235.3 48.9,234.6 49.0,233.8 49.1,233.1 49.3,232.3 49.4,231.6 49.5,230.8 49.7,230.1 49.7,229.3 49.8,228.6 50.3,227.8 50.8,227.1 50.8,226.3 50.9,225.6 51.3,224.8 51.3,224.0 51.3,223.3 51.5,222.5 52.1,221.8 52.1,221.0 52.7,220.3 52.7,219.5 53.3,218.8 53.3,218.0 53.3,217.3 53.5,216.5 54.0,215.8 54.1,215.0 54.1,214.3 54.4,213.5 54.5,212.7 55.3,212.0 55.4,211.2 55.4,210.5 55.7,209.7 56.0,209.0 56.7,208.2 56.8,207.5 57.3,206.7 57.3,206.0 57.4,205.2 57.5,204.5 57.8,203.7 58.1,203.0 58.9,202.2 58.9,201.5 59.1,200.7 59.2,199.9 59.3,199.2 59.7,198.4 60.4,197.7 60.6,196.9 60.6,196.2 60.9,195.4 61.3,194.7 61.5,193.9 62.1,193.2 62.1,192.4 62.1,191.7 62.5,190.9 62.6,190.2 62.6,189.4 62.8,188.6 62.9,187.9 63.2,187.1 64.4,186.4 64.5,185.6 64.8,184.9 65.6,184.1 66.5,183.4 67.3,182.6 67.3,181.9 68.0,181.1 68.6,180.4 68.7,179.6 68.8,178.9 69.0,178.1 69.0,177.3 69.1,176.6 69.2,175.8 69.8,175.1 70.3,174.3 70.5,173.6 70.6,172.8 71.1,172.1 71.3,171.3 71.8,170.6 72.0,169.8 72.1,169.1 72.8,168.3 72.8,167.6 73.0,166.8 73.1,166.1 73.4,165.3 73.6,164.5 74.0,163.8 74.5,163.0 74.8,162.3 75.0,161.5 76.0,160.8 76.4,160.0 76.6,159.3 78.0,158.5 78.3,157.8 78.8,157.0 79.6,156.3 80.0,155.5 80.7,154.8 81.0,154.0 81.3,153.2 81.8,152.5 83.1,151.7 83.7,151.0 85.3,150.2 85.6,149.5 87.8,148.7 88.3,148.0 88.7,147.2 88.9,146.5 89.5,145.7 90.2,145.0 93.6,144.2 93.9,143.5 96.2,142.7 96.2,141.9 97.4,141.2 97.6,140.4 97.6,139.7 98.3,138.9 98.6,138.2 100.4,137.4 100.7,136.7 101.8,135.9 101.8,135.2 103.2,134.4 104.0,133.7 104.1,132.9 104.8,132.2 105.9,131.4 106.5,130.6 107.4,129.9 109.0,129.1 112.6,128.4 114.1,127.6 115.5,126.9 116.8,126.1 118.3,125.4 119.3,124.6 121.6,123.9 122.8,123.1 124.5,122.4 126.3,121.6 127.9,120.9 129.8,120.1 131.8,119.4 132.5,118.6 134.2,117.8 137.5,117.1 139.6,116.3 146.2,115.6 151.8,114.8 153.2,114.1 155.6,113.3 157.1,112.6 160.3,111.8 160.7,111.1 161.5,110.3 162.7,109.6 164.6,108.8 166.4,108.1 168.4,107.3 172.2,106.5 175.0,105.8 176.2,105.0 178.9,104.3 180.5,103.5 183.8,102.8 187.2,102.0 190.1,101.3 193.2,100.5 198.9,99.8 202.0,99.0 204.9,98.3 208.0,97.5 211.2,96.8 215.0,96.0 219.8,95.2 224.0,94.5 229.9,93.7 233.4,93.0 237.7,92.2 242.1,91.5 252.8,90.7 261.0,90.0 266.4,89.2 269.2,88.5 271.5,87.7 273.1,87.0 274.5,86.2 275.9,85.5 279.9,84.7 283.2,84.0 284.7,83.2 286.7,82.4 293.3,81.7 297.1,80.9 301.7,80.2 308.4,79.4 316.6,78.7 321.8,77.9 330.6,77.2 340.5,76.4 346.2,75.7 347.7,74.9 356.4,74.2 369.0,73.4 372.0,72.7 374.5,71.9 379.4,71.1 381.1,70.4 383.4,69.6 386.2,68.9 388.4,68.1 392.5,67.4 396.0,66.6 400.6,65.9 412.1,65.1 424.5,64.4 436.4,63.6 447.5,62.9" fill="none" stroke="#BEBEBE" stroke-width="0.9" marker-start="url(#m8)" marker-mid="url(#m8)" marker-end="url(#m8)"/>
<polyline points="46.6,259.4 46.6,258.7 46.7,257.9 46.7,257.2 46.8,256.4 46.8,255.7 46.9,254.9 47.0,254.2 47.2,253.4 47.3,252.7 47.3,251.9 47.4,251.2 47.6,250.4 47.6,249.7 47.7,248.9 47.7,248.1 48.0,247.4 48.0,246.6 48.1,245.9 48.2,245.1 48.5,244.4 48.6,243.6 48.6,242.9 48.6,242.1 48.9,241.4 48.9,240.6 48.9,239.9 49.2,239.1 49.2,238.4 49.3,237.6 49.4,236.9 49.5,236.1 49.6,235.3 49.7,234.6 49.9,233.8 50.1,233.1 50.2,232.3 50.3,231.6 50.5,230.8 50.6,230.1 50.7,229.3 50.8,228.6 51.1,227.8 51.3,227.1 51.8,226.3 52.3,225.6 52.3,224.8 52.8,224.0 52.8,223.3 52.8,222.5 53.0,221.8 53.1,221.0 53.2,220.3 53.5,219.5 53.6,218.8 54.1,218.0 54.1,217.3 54.5,216.5 54.7,215.8 54.9,215.0 55.3,214.3 55.7,213.5 56.1,212.7 56.7,212.0 56.7,211.2 56.7,210.5 56.9,209.7 57.0,209.0 57.1,208.2 57.6,207.5 58.0,206.7 58.7,206.0 58.8,205.2 59.1,204.5 59.7,203.7 59.7,203.0 60.0,202.2 60.2,201.5 60.4,200.7 60.5,199.9 60.6,199.2 60.9,198.4 61.2,197.7 61.5,196.9 61.9,196.2 62.6,195.4 62.6,194.7 63.1,193.9 63.3,193.2 63.5,192.4 63.8,191.7 64.0,190.9 64.0,190.2 64.5,189.4 64.5,188.6 64.6,187.9 64.8,187.1 64.9,186.4 65.1,185.6 65.3,184.9 65.5,184.1 65.9,183.4 66.1,182.6 66.3,181.9 66.9,181.1 67.1,180.4 67.7,179.6 67.7,178.9 68.4,178.1 68.7,177.3 68.7,176.6 68.7,175.8 68.8,175.1 69.5,174.3 70.6,173.6 70.8,172.8 71.7,172.1 71.7,171.3 71.8,170.6 72.5,169.8 72.5,169.1 72.8,168.3 73.1,167.6 74.1,166.8 74.7,166.1 75.0,165.3 75.2,164.5 75.5,163.8 76.7,163.0 77.2,162.3 78.2,161.5 78.5,160.8 78.9,160.0 79.6,159.3 80.4,158.5 82.0,157.8 83.2,157.0 83.8,156.3 84.8,155.5 87.5,154.8 87.9,154.0 87.9,153.2 88.2,152.5 90.0,151.7 90.2,151.0 90.5,150.2 91.1,149.5 92.5,148.7 93.5,148.0 94.7,147.2 94.9,146.5 96.5,145.7 96.5,145.0 96.7,144.2 96.8,143.5 96.8,142.7 97.2,141.9 97.9,141.2 98.0,140.4 98.4,139.7 98.6,138.9 98.9,138.2 99.6,137.4 100.2,136.7 101.3,135.9 104.1,135.2 106.1,134.4 106.7,133.7 107.0,132.9 107.4,132.2 109.8,131.4 110.5,130.6 112.1,129.9 112.3,129.1 113.6,128.4 116.2,127.6 117.2,126.9 117.3,126.1 117.3,125.4 118.0,124.6 118.1,123.9 119.5,123.1 120.2,122.4 122.1,121.6 122.3,120.9 122.8,120.1 123.0,119.4 124.6,118.6 125.0,117.8 125.4,117.1 127.1,116.3 129.7,115.6 129.8,114.8 130.3,114.1 132.8,113.3 133.0,112.6 133.0,111.8 133.2,111.1 133.6,110.3 135.3,109.6 135.7,108.8 136.1,108.1 136.5,107.3 137.2,106.5 138.1,105.8 138.9,105.0 141.2,104.3 143.2,103.5 149.3,102.8 152.2,102.0 152.8,101.3 154.6,100.5 158.4,99.8 159.0,99.0 160.6,98.3 161.9,97.5 164.9,96.8 168.2,96.0 169.6,95.2 170.7,94.5 173.0,93.7 177.8,93.0 180.0,92.2 183.7,91.5 186.3,90.7 189.0,90.0 192.9,89.2 196.2,88.5 201.2,87.7 208.0,87.0 214.8,86.2 217.8,85.5 221.7,84.7 224.3,84.0 226.8,83.2 228.8,82.4 230.6,81.7 233.6,80.9 243.8,80.2 254.4,79.4 262.2,78.7 267.3,77.9 272.8,77.2 279.7,76.4 283.5,75.7 288.6,74.9 300.5,74.2 316.5,73.4 326.7,72.7 335.5,71.9 364.0,71.1 369.8,70.4 372.2,69.6 378.1,68.9 398.6,68.1 404.6,67.4 408.5,66.6 413.5,65.9 422.1,65.1 430.5,64.4" fill="none" stroke="#000000" stroke-width="0.9" marker-start="url(#m9)" marker-mid="url(#m9)" marker-end="url(#m9)"/>
<polyline points="46.6,259.4 46.7,258.7 46.7,257.9 46.7,257.2 46.7,256.4 46.8,255.7 46.9,254.9 46.9,254.2 47.0,253.4 47.1,252.7 47.2,251.9 47.2,251.2 47.2,250.4 47.3,249.7 47.3,248.9 47.4,248.1 47.5,247.4 47.9,246.6 47.9,245.9 47.9,245.1 48.0,244.4 48.2,243.6 48.4,242.9 48.6,242.1 48.8,241.4 49.0,240.6 49.7,239.9 49.8,239.1 50.4,238.4 50.5,237.6 50.7,236.9 50.7,236.1 50.8,235.3 51.0,234.6 51.2,233.8 51.4,233.1 52.6,232.3 53.6,231.6 53.7,230.8 53.9,230.1 53.9,229.3 54.2,228.6 54.5,227.8 54.6,227.1 54.9,226.3 55.3,225.6 55.8,224.8 56.0,224.0 57.0,223.3 57.4,222.5 57.6,221.8 57.9,221.0 58.6,220.3 58.7,219.5 59.0,218.8 60.5,218.0 60.5,217.3 60.7,216.5 61.1,215.8 61.4,215.0 62.1,214.3 62.4,213.5 62.7,212.7 64.2,212.0 64.5,211.2 64.5,210.5 65.0,209.7 65.4,209.0 65.8,208.2 66.0,207.5 66.6,206.7 66.9,206.0 67.3,205.2 67.4,204.5 67.9,203.7 68.2,203.0 68.4,202.2 69.3,201.5 69.5,200.7 70.6,199.9 71.2,199.2 71.3,198.4 71.6,197.7 71.7,196.9 71.8,196.2 72.3,195.4 72.3,194.7 72.4,193.9 72.4,193.2 72.6,192.4 73.3,191.7 74.0,190.9 75.2,190.2 75.3,189.4 75.6,188.6 76.8,187.9 77.0,187.1 77.1,186.4 78.5,185.6 78.5,184.9 78.6,184.1 79.0,183.4 80.1,182.6 80.1,181.9 80.4,181.1 80.8,180.4 82.1,179.6 82.5,178.9 82.9,178.1 83.7,177.3 84.2,176.6 85.9,175.8 86.1,175.1 87.0,174.3 87.9,173.6 89.6,172.8 91.1,172.1 91.1,171.3 93.1,170.6 93.1,169.8 93.8,169.1 93.8,168.3 95.8,167.6 97.5,166.8 97.5,166.1 98.6,165.3 98.9,164.5 101.0,163.8 101.0,163.0 101.0,162.3 101.0,161.5 101.5,160.8 104.1,160.0 104.7,159.3 104.7,158.5 105.9,157.8 107.6,157.0 108.8,156.3 108.8,155.5 109.4,154.8 109.7,154.0 111.6,153.2 114.0,152.5 114.8,151.7 116.9,151.0 117.1,150.2 117.5,149.5 118.8,148.7 119.9,148.0 122.0,147.2 123.5,146.5 128.2,145.7 131.4,145.0 134.4,144.2 136.4,143.5 137.5,142.7 138.3,141.9 139.9,141.2 141.2,140.4 141.9,139.7 142.8,138.9 146.0,138.2 152.3,137.4 153.9,136.7 157.5,135.9 159.4,135.2 163.1,134.4 165.8,133.7 168.6,132.9 171.7,132.2 173.5,131.4 180.2,130.6 185.5,129.9 188.3,129.1 191.4,128.4 194.9,127.6 201.2,126.9 209.0,126.1 212.3,125.4 214.6,124.6 216.2,123.9 218.1,123.1 220.0,122.4 221.7,121.6 225.5,120.9 231.3,120.1 235.1,119.4 239.8,118.6 244.7,117.8 246.2,117.1 248.7,116.3 250.8,115.6 255.6,114.8 258.6,114.1 261.9,113.3 267.1,112.6 275.0,111.8 286.9,111.1 294.2,110.3 298.6,109.6 301.6,108.8 305.0,108.1 307.4,107.3 311.3,106.5 317.1,105.8 324.0,105.0 332.0,104.3 339.2,103.5 345.8,102.8 349.5,102.0 352.3,101.3 353.8,100.5 356.7,99.8 357.9,99.0 361.2,98.3 361.8,97.5 366.5,96.8 380.1,96.0 387.2,95.2 398.0,94.5 411.4,93.7 416.0,93.0 420.3,92.2 426.2,91.5 432.3,90.7 439.1,90.0 442.8,89.2 444.4,88.5 449.0,87.7" fill="none" stroke="#FF0000" stroke-width="0.9" marker-start="url(#m10)" marker-mid="url(#m10)" marker-end="url(#m10)"/>
<polyline points="47.0,259.4 47.1,258.7 47.3,257.9 47.3,257.2 48.0,256.4 48.3,255.7 48.9,254.9 48.9,254.2 48.9,253.4 49.0,252.7 49.5,251.9 49.6,251.2 49.7,250.4 50.2,249.7 50.3,248.9 50.6,248.1 51.1,247.4 51.4,246.6 51.6,245.9 51.7,245.1 52.0,244.4 52.3,243.6 53.3,242.9 54.2,242.1 54.6,241.4 54.7,240.6 55.4,239.9 55.4,239.1 55.7,238.4 56.5,237.6 56.8,236.9 57.7,236.1 58.2,235.3 58.6,234.6 58.7,233.8 60.0,233.1 60.2,232.3 60.2,231.6 60.5,230.8 61.2,230.1 61.4,229.3 62.3,228.6 62.9,227.8 63.3,227.1 63.3,226.3 63.5,225.6 63.8,224.8 64.5,224.0 64.8,223.3 66.2,222.5 66.3,221.8 67.8,221.0 67.8,220.3 68.3,219.5 68.6,218.8 68.9,218.0 69.3,217.3 70.0,216.5 70.3,215.8 70.5,215.0 71.5,214.3 72.2,213.5 72.3,212.7 73.0,212.0 73.9,211.2 73.9,210.5 74.2,209.7 74.4,209.0 75.1,208.2 75.4,207.5 75.4,206.7 77.0,206.0 77.3,205.2 77.8,204.5 77.8,203.7 77.9,203.0 78.0,202.2 78.5,201.5 78.7,200.7 79.0,199.9 79.3,199.2 79.4,198.4 79.4,197.7 79.6,196.9 80.8,196.2 82.7,195.4 82.7,194.7 83.0,193.9 83.4,193.2 84.8,192.4 86.5,191.7 86.8,190.9 87.1,190.2 87.5,189.4 90.6,188.6 94.2,187.9 97.3,187.1 99.7,186.4 99.7,185.6 101.4,184.9 102.5,184.1 102.7,183.4 103.6,182.6 106.5,181.9 106.6,181.1 107.5,180.4 108.3,179.6 109.4,178.9 110.4,178.1 114.2,177.3 116.2,176.6 119.0,175.8 119.5,175.1 120.0,174.3 120.5,173.6 121.1,172.8 122.0,172.1 124.8,171.3 125.0,170.6 126.2,169.8 127.2,169.1 129.9,168.3 130.1,167.6 132.8,166.8 132.9,166.1 134.1,165.3 135.9,164.5 138.0,163.8 141.0,163.0 142.8,162.3 146.0,161.5 147.5,160.8 148.8,160.0 150.9,159.3 151.6,158.5 153.2,157.8 153.7,157.0 154.3,156.3 155.2,155.5 156.9,154.8 158.0,154.0 158.5,153.2 160.7,152.5 161.3,151.7 162.0,151.0 165.5,150.2 167.3,149.5 169.0,148.7 169.6,148.0 171.4,147.2 175.6,146.5 178.3,145.7 180.3,145.0 183.3,144.2 185.7,143.5 187.1,142.7 188.5,141.9 192.5,141.2 197.5,140.4 200.8,139.7 201.8,138.9 202.9,138.2 203.7,137.4 203.7,136.7 204.3,135.9 205.0,135.2 206.9,134.4 209.2,133.7 213.9,132.9 217.1,132.2 219.9,131.4 223.7,130.6 227.3,129.9 230.5,129.1 231.8,128.4 233.7,127.6 235.6,126.9 238.1,126.1 242.0,125.4 244.6,124.6 247.1,123.9 249.3,123.1 261.7,122.4 267.2,121.6 273.1,120.9 279.2,120.1 282.5,119.4 286.4,118.6 291.9,117.8 300.3,117.1 311.7,116.3 322.8,115.6 330.5,114.8 339.2,114.1 353.4,113.3 363.5,112.6 370.8,111.8 383.6,111.1 401.0,110.3 409.9,109.6 418.5,108.8 427.7,108.1 435.0,107.3" fill="none" stroke="#00CD00" stroke-width="0.9" marker-start="url(#m11)" marker-mid="url(#m11)" marker-end="url(#m11)"/>
</g>
<g>
<rect x="30" y="6" width="444" height="264" fill="none" stroke="#000" stroke-width="0.8"/>
<line x1="46.50" y1="270" x2="46.50" y2="275.7" stroke="#000" stroke-width="1"/>
<text transform="translate(46.50,291.6) scale(1,1.06)" text-anchor="middle">0</text>
<line x1="127.00" y1="270" x2="127.00" y2="275.7" stroke="#000" stroke-width="1"/>
<text transform="translate(127.00,291.6) scale(1,1.06)" text-anchor="middle">1000</text>
<line x1="207.50" y1="270" x2="207.50" y2="275.7" stroke="#000" stroke-width="1"/>
<text transform="translate(207.50,291.6) scale(1,1.06)" text-anchor="middle">2000</text>
<line x1="288.00" y1="270" x2="288.00" y2="275.7" stroke="#000" stroke-width="1"/>
<text transform="translate(288.00,291.6) scale(1,1.06)" text-anchor="middle">3000</text>
<line x1="368.50" y1="270" x2="368.50" y2="275.7" stroke="#000" stroke-width="1"/>
<text transform="translate(368.50,291.6) scale(1,1.06)" text-anchor="middle">4000</text>
<line x1="449.00" y1="270" x2="449.00" y2="275.7" stroke="#000" stroke-width="1"/>
<text transform="translate(449.00,291.6) scale(1,1.06)" text-anchor="middle">5000</text>
<line x1="46.50" y1="270" x2="449.00" y2="270" stroke="#000" stroke-width="0.3"/>
<line x1="30" y1="260.20" x2="30" y2="34.24" stroke="#000" stroke-width="0.3"/>
<line x1="24.2" y1="260.20" x2="30" y2="260.20" stroke="#000" stroke-width="1"/>
<text transform="translate(15.8,260.20) rotate(-90)" text-anchor="middle" font-size="10.1">0</text>
<line x1="24.2" y1="222.54" x2="30" y2="222.54" stroke="#000" stroke-width="1"/>
<text transform="translate(15.8,222.54) rotate(-90)" text-anchor="middle" font-size="10.1">50</text>
<line x1="24.2" y1="184.88" x2="30" y2="184.88" stroke="#000" stroke-width="1"/>
<text transform="translate(15.8,184.88) rotate(-90)" text-anchor="middle" font-size="10.1">100</text>
<line x1="24.2" y1="147.22" x2="30" y2="147.22" stroke="#000" stroke-width="1"/>
<text transform="translate(15.8,147.22) rotate(-90)" text-anchor="middle" font-size="10.1">150</text>
<line x1="24.2" y1="109.56" x2="30" y2="109.56" stroke="#000" stroke-width="1"/>
<text transform="translate(15.8,109.56) rotate(-90)" text-anchor="middle" font-size="10.1">200</text>
<line x1="24.2" y1="71.90" x2="30" y2="71.90" stroke="#000" stroke-width="1"/>
<text transform="translate(15.8,71.90) rotate(-90)" text-anchor="middle" font-size="10.1">250</text>
<line x1="24.2" y1="34.24" x2="30" y2="34.24" stroke="#000" stroke-width="1"/>
<text transform="translate(15.8,34.24) rotate(-90)" text-anchor="middle" font-size="10.1">300</text>
</g>
<g>
<rect x="405.5" y="154.5" width="68.5" height="115.5" fill="#fff" stroke="#000" stroke-width="1"/>
<path transform="translate(412.9,164.50)" d="M-1.8 0A1.8 1.93 0 1 0 1.8 0A1.8 1.93 0 1 0 -1.8 0Z" fill="none" stroke="#000000" stroke-width="1" stroke-linejoin="round"/>
<text x="420" y="167.50" font-size="8.4">pmcomps−32</text>
<path transform="translate(412.9,174.13)" d="M0 -3 L2.42 1.5 L-2.42 1.5Z" fill="none" stroke="#FF0000" stroke-width="1" stroke-linejoin="round"/>
<text x="420" y="177.13" font-size="8.4">gimsatul−32</text>
<path transform="translate(412.9,183.76)" d="M-2.55 0 L2.55 0M0 -2.72 L0 2.72" fill="none" stroke="#00CD00" stroke-width="1" stroke-linejoin="round"/>
<text x="420" y="186.76" font-size="8.4">pmcomps−16</text>
<path transform="translate(412.9,193.39)" d="M-1.8 -1.93 L1.8 1.93M-1.8 1.93 L1.8 -1.93" fill="none" stroke="#0000FF" stroke-width="1" stroke-linejoin="round"/>
<text x="420" y="196.39" font-size="8.4">gimsatul−16</text>
<path transform="translate(412.9,203.02)" d="M-2.55 0 L0 -2.72 L2.55 0 L0 2.72Z" fill="none" stroke="#00FFFF" stroke-width="1" stroke-linejoin="round"/>
<text x="420" y="206.02" font-size="8.4">gimsatul−8</text>
<path transform="translate(412.9,212.65)" d="M0 3 L2.42 -1.5 L-2.42 -1.5Z" fill="none" stroke="#FF00FF" stroke-width="1" stroke-linejoin="round"/>
<text x="420" y="215.65" font-size="8.4">pmcomps−8</text>
<path transform="translate(412.9,222.28)" d="M-1.8 -1.93 L1.8 -1.93 L1.8 1.93 L-1.8 1.93ZM-1.8 -1.93 L1.8 1.93M-1.8 1.93 L1.8 -1.93" fill="none" stroke="#FFFF00" stroke-width="1" stroke-linejoin="round"/>
<text x="420" y="225.28" font-size="8.4">gimsatul−4</text>
<path transform="translate(412.9,231.91)" d="M-1.8 -1.93 L1.8 1.93M-1.8 1.93 L1.8 -1.93M-2.55 0 L2.55 0M0 -2.72 L0 2.72" fill="none" stroke="#BEBEBE" stroke-width="1" stroke-linejoin="round"/>
<text x="420" y="234.91" font-size="8.4">gimsatul−2</text>
<path transform="translate(412.9,241.54)" d="M-2.55 0 L0 -2.72 L2.55 0 L0 2.72ZM-2.55 0 L2.55 0M0 -2.72 L0 2.72" fill="none" stroke="#000000" stroke-width="1" stroke-linejoin="round"/>
<text x="420" y="244.54" font-size="8.4">pmcomps−4</text>
<path transform="translate(412.9,251.17)" d="M-1.8 0A1.8 1.93 0 1 0 1.8 0A1.8 1.93 0 1 0 -1.8 0ZM-1.8 0 L1.8 0M0 -1.93 L0 1.93" fill="none" stroke="#FF0000" stroke-width="1" stroke-linejoin="round"/>
<text x="420" y="254.17" font-size="8.4">gimsatul−1</text>
<path transform="translate(412.9,260.80)" d="M0 3 L2.42 -2.25 L-2.42 -2.25ZM0 -3 L2.42 2.25 L-2.42 2.25Z" fill="none" stroke="#00CD00" stroke-width="1" stroke-linejoin="round"/>
<text x="420" y="263.80" font-size="8.4">pmcomps−2</text>
</g>
</svg>
</body></html>
